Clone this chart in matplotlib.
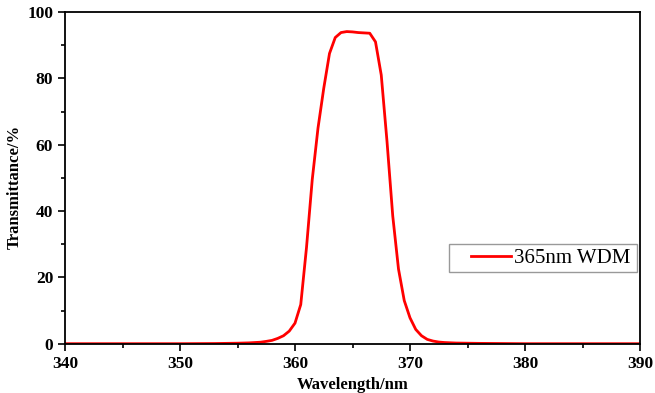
import numpy as np
import matplotlib
matplotlib.use("Agg")
import matplotlib.pyplot as plt
from matplotlib.ticker import MultipleLocator
from matplotlib.legend_handler import HandlerLine2D

# Transmission spectrum of the 365nm WDM filter
wavelength = [340, 345, 350, 353, 355, 356, 357, 357.5, 358, 358.5, 359, 359.5,
              360, 360.5, 361, 361.5, 362, 362.5, 363, 363.5, 364, 364.5, 365,
              365.5, 366, 366.5, 367, 367.5, 368, 368.5, 369, 369.5, 370, 370.5,
              371, 371.5, 372, 372.5, 373, 374, 376, 378, 380, 385, 390]
transmittance = [0, 0, 0, 0.05, 0.15, 0.25, 0.45, 0.7, 1.0, 1.6, 2.4, 3.8,
                 6.2, 11.8, 29, 49.5, 65, 77, 87.5, 92.3, 93.8, 94.1, 94.0,
                 93.8, 93.7, 93.6, 91, 81, 61, 38.5, 22.5, 13, 7.8, 4.3,
                 2.4, 1.3, 0.8, 0.5, 0.35, 0.2, 0.1, 0.05, 0, 0, 0]

x_ticks = [340, 350, 360, 370, 380, 390]
y_ticks = [0, 20, 40, 60, 80, 100]

plt.rcParams['font.family'] = ['Liberation Serif', 'DejaVu Serif']

fig = plt.figure(figsize=(6.55, 3.93), dpi=100)
ax = fig.add_axes([65 / 655, 49.3 / 393, 575 / 655, 331.7 / 393])

line, = ax.plot(wavelength, transmittance, color='#ff0000', linewidth=2, label='365nm WDM')

ax.set_xlim(340, 390)
ax.set_ylim(0, 100)
ax.set_xticks(x_ticks)
ax.set_yticks(y_ticks)
ax.xaxis.set_minor_locator(MultipleLocator(5))
ax.yaxis.set_minor_locator(MultipleLocator(10))
ax.tick_params(which='major', direction='out', length=5, width=1.2, labelsize=12.5)
ax.tick_params(which='minor', direction='out', length=3, width=1.2)
for lab in ax.get_xticklabels() + ax.get_yticklabels():
    lab.set_fontweight('bold')
for sp in ax.spines.values():
    sp.set_linewidth(1.3)

ax.set_xlabel('Wavelength/nm', fontsize=12, fontweight='bold', labelpad=4)
ax.set_ylabel('Transmittance/%', fontsize=12, fontweight='bold')
ax.yaxis.set_label_coords(-0.073, 0.472)

# legend: line sits a bit in from the left edge of the box
leg = ax.legend(loc='lower left', bbox_to_anchor=(0.668, 0.216, 0.327, 0.081),
                mode='expand', fontsize=15, frameon=True, fancybox=False,
                handlelength=2.75, handletextpad=0.15, borderpad=0.2,
                borderaxespad=0, handler_map={line: HandlerLine2D(xpad=0.87)})
leg.get_frame().set_edgecolor('#808080')
leg.get_frame().set_linewidth(1)

fig.savefig('out.png', dpi=100)
